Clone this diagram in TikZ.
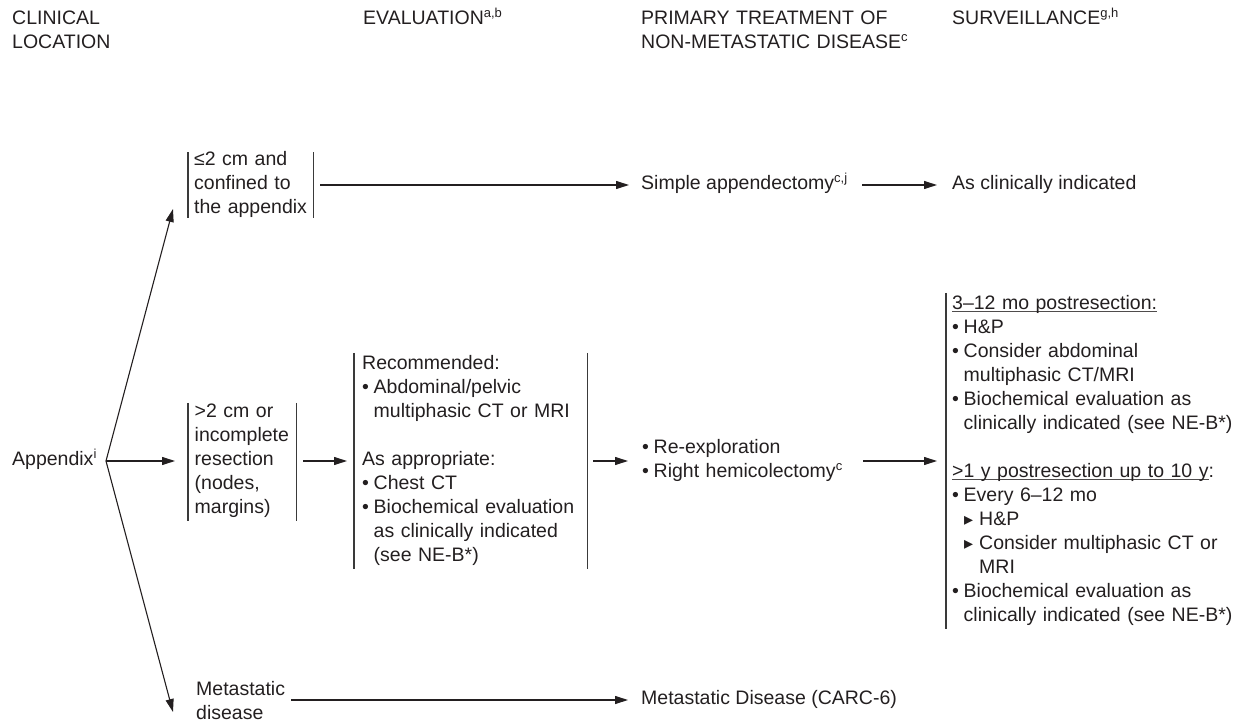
\documentclass[tikz,border=0pt]{standalone}
\usepackage{fontspec}
\setmainfont{Liberation Sans}
\newfontfamily\dvs{DejaVu Sans}
\usetikzlibrary{arrows.meta}
\definecolor{ink}{HTML}{231F20}
\definecolor{barc}{HTML}{3A3A3A}
\newcommand\sups[1]{\raisebox{7pt}{\fontsize{13}{12}\selectfont #1}}
\newcommand\bul{\hangindent=11.5pt\hangafter=1\noindent\makebox[11.5pt][l]{•}}
\newcommand\subbul{\hangindent=27pt\hangafter=1\noindent\hspace*{12pt}\makebox[15pt][l]{{\dvs\fontsize{18}{18}\selectfont ▸}}}
\newcommand\ulx[1]{\leavevmode\setbox0\hbox{#1}\rlap{\color{ink!80}\rule[-2.4pt]{\wd0}{0.8pt}}\box0}
\newcommand\nodeend{\ifhmode\strut\par\fi}
\begin{document}
\begin{tikzpicture}[x=1pt,y=-1pt,
  every node/.style={inner sep=0pt, text=ink, font=\fontsize{19.5}{24}\selectfont,
    execute at begin node={\parindent=0pt\strut}, execute at end node=\nodeend},
  blk/.style={anchor=west, align=left},
  hdr/.style={anchor=north west, align=left},
  arr/.style={draw=ink, line width=1.1pt, -{Triangle[length=13pt,width=8pt]}},
  bar/.style={draw=barc, line width=1.2pt},
]
\useasboundingbox (0,0) rectangle (1245,727);

% headers
\node[hdr, text width=150] (h1) at (12,7.2) {CLINICAL\\LOCATION};
\node[hdr, text width=200] (h2) at (363,7.2) {EVALUATION\sups{a,b}};
\node[hdr, text width=300] (h3) at (641,7.2) {PRIMARY TREATMENT OF\\NON-METASTATIC DISEASE\sups{c}};
\node[hdr, text width=280] (h4) at (952,7.2) {SURVEILLANCE\sups{g,h}};

% top row
\node[blk, text width=113, inner xsep=6pt] (t1) at (188,185) {≤2 cm and\\confined to\\the appendix};
\node[anchor=west] (simple) at (641,185) {Simple appendectomy\sups{c,j}};
\node[anchor=west] (asci) at (952,185) {As clinically indicated};

% middle row
\node[anchor=west] (app) at (12,461) {Appendix\sups{i}};
\coordinate (fork) at (106,461);
\coordinate (topTip) at (173,209);
\coordinate (botTip) at (173,712);
\node[blk, text width=95, inner xsep=6.5pt] (m1) at (188,461) {>2 cm or\\incomplete\\resection\\(nodes,\\margins)};
\node[blk, text width=217, inner xsep=8pt] (e1) at (354,461) {Recommended:\par\bul Abdominal/pelvic\newline multiphasic CT or MRI\par\strut\par As appropriate:\par\bul Chest CT\par\bul Biochemical evaluation\newline as clinically indicated\newline (see NE-B*)\nodeend};
\node[blk, text width=215] (treat) at (642,461) {\bul Re-exploration\par\bul Right hemicolectomy\sups{c}\nodeend};
\node[blk, text width=291, inner xsep=6pt] (s1) at (946,461) {\ulx{3–12 mo postresection:}\par\bul H\&P\par\bul Consider abdominal\newline multiphasic CT/MRI\par\bul Biochemical evaluation as\newline clinically indicated (see NE-B*)\par\strut\par\ulx{>1 y postresection up to 10 y}:\par\bul Every 6–12 mo\par\subbul H\&P\par\subbul Consider multiphasic CT or\newline MRI\par\bul Biochemical evaluation as\newline clinically indicated (see NE-B*)\nodeend};

% bottom row
\node[blk, text width=90] (met) at (196,703) {Metastatic\\disease};
\node[anchor=west] (metd) at (641,700) {Metastatic Disease (CARC-6)};

% bars
\draw[bar, shorten <=3.5pt, shorten >=3pt] (t1.north west) -- (t1.south west);
\draw[bar, shorten <=3.5pt, shorten >=3pt] (t1.north east) -- (t1.south east);
\draw[bar, shorten <=2pt] (m1.north west) -- (m1.south west);
\draw[bar, shorten <=2pt] (m1.north east) -- (m1.south east);
\draw[bar] (e1.north west) -- (e1.south west);
\draw[bar] (e1.north east) -- (e1.south east);
\draw[bar] (s1.north west) -- (s1.south west);

% connectors
\draw[arr] (fork) -- (topTip);
\draw[arr, shorten >=13pt] (fork) -- (m1.west);
\draw[arr] (fork) -- (botTip);
\draw[arr, shorten <=7pt, shorten >=12pt] (t1.east) -- (simple.west);
\draw[arr, shorten <=15pt, shorten >=15pt] (simple.east) -- (asci.west);
\draw[arr, shorten <=7pt, shorten >=7pt] (m1.east) -- (e1.west);
\draw[arr, shorten <=6pt, shorten >=14pt] (e1.east) -- (treat.west);
\draw[arr, shorten <=6pt, shorten >=9pt] (treat.east) -- (s1.west);
\draw[arr, shorten <=5pt, shorten >=13pt] (met.east |- metd.west) -- (metd.west);
\end{tikzpicture}
\end{document}
